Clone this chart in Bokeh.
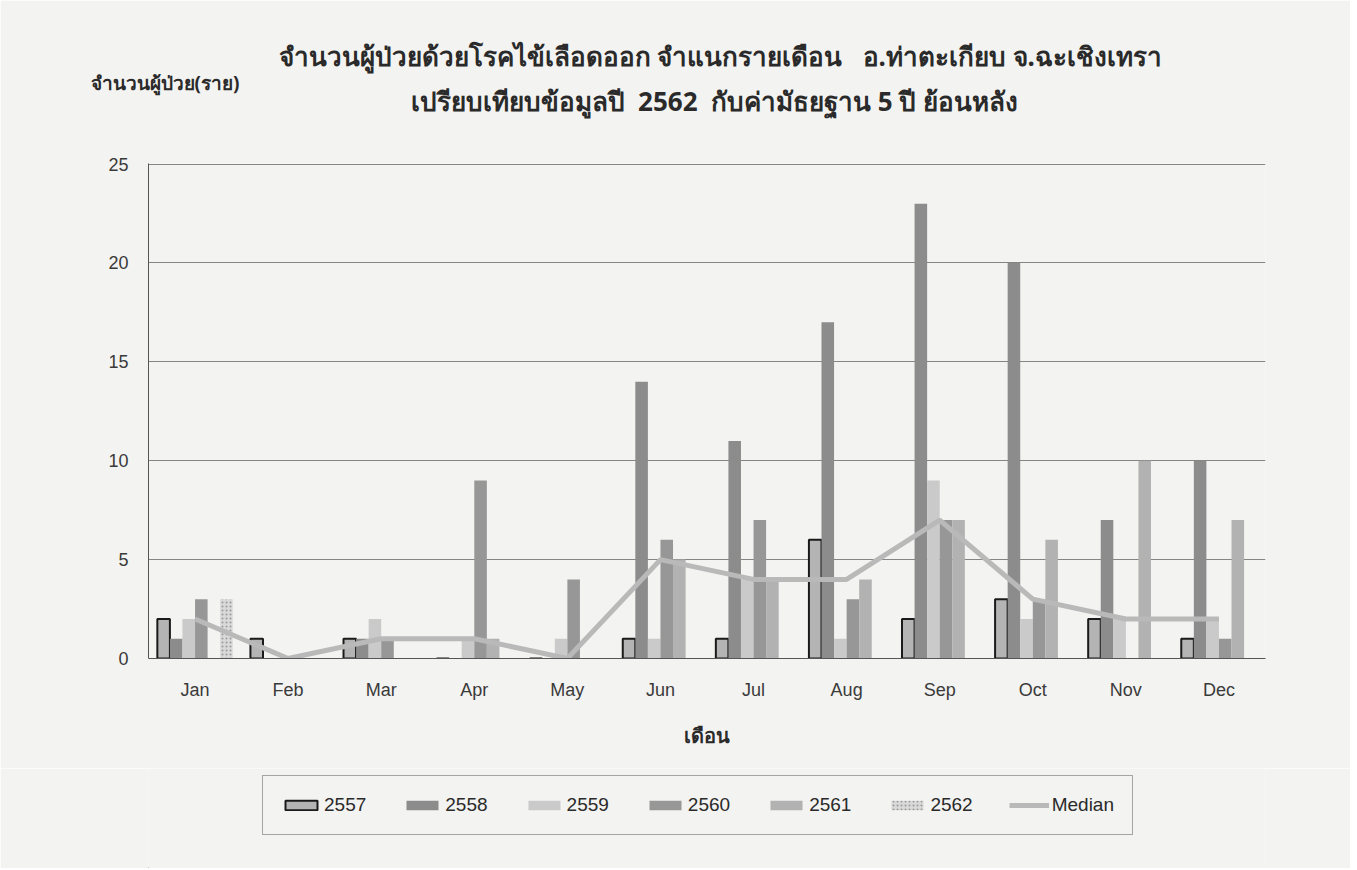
from bokeh.plotting import figure
from bokeh.layouts import column
from bokeh.models import ColumnDataSource, Legend, LegendItem, FixedTicker, Title, Range1d
from bokeh.transform import dodge
from bokeh.embed import file_html
from bokeh.resources import INLINE

months = ["Jan", "Feb", "Mar", "Apr", "May", "Jun", "Jul", "Aug", "Sep", "Oct", "Nov", "Dec"]
y2557 = [2, 1, 1, 0, 0, 1, 1, 6, 2, 3, 2, 1]
y2558 = [1, 0, 1, 0, 0, 14, 11, 17, 23, 20, 7, 10]
y2559 = [2, 0, 2, 1, 1, 1, 4, 1, 9, 2, 2, 2]
y2560 = [3, 0, 1, 9, 4, 6, 7, 3, 7, 3, 0, 1]
y2561 = [0, 0, 0, 1, 0, 5, 4, 4, 7, 6, 10, 7]
y2562 = [3, 0, 0, 0, 0, 0, 0, 0, 0, 0, 0, 0]
median = [2, 0, 1, 1, 0, 5, 4, 4, 7, 3, 2, 2]
years = ["2557", "2558", "2559", "2560", "2561", "2562"]
y_ticks = [0, 5, 10, 15, 20, 25]

NB = "\u00a0"
title1 = "จำนวนผู้ป่วยด้วยโรคไข้เลือดออก จำแนกรายเดือน" + NB * 3 + "อ.ท่าตะเกียบ จ.ฉะเชิงเทรา"
title2 = "เปรียบเทียบข้อมูลปี" + NB * 2 + "2562" + NB * 2 + "กับค่ามัธยฐาน 5 ปี ย้อนหลัง"
ylabel = "จำนวนผู้ป่วย(ราย)"
xlabel = "เดือน"

src = ColumnDataSource(dict(month=months, y2557=y2557, y2558=y2558, y2559=y2559,
                            y2560=y2560, y2561=y2561, y2562=y2562, median=median))

PAPER = "#f3f3f1"
fills = ["#b4b4b4", "#8c8c8c", "#cacaca", "#979797", "#b2b2b2", "#d9d9d9"]
bw = 0.135


def bar_style(i, yr):
    kw = dict(fill_color=fills[i], line_color=None)
    if yr == "2557":
        kw = dict(fill_color=fills[i], line_color="#1a1a1a", line_width=2)
    if yr == "2562":
        kw = dict(fill_color=fills[i], line_color=None, hatch_pattern="dot",
                  hatch_color="#9a9a9a", hatch_scale=4)
    return kw


LINE = dict(line_color="#b9b9b9", line_width=5)

p = figure(x_range=months, y_range=Range1d(0, 25.03), frame_width=1117, frame_height=495,
           output_backend="svg", toolbar_location=None,
           min_border_left=148, min_border_right=85, min_border_top=163, min_border_bottom=110)
p.background_fill_color = PAPER
p.border_fill_color = PAPER
p.outline_line_color = None

for i, yr in enumerate(years):
    off = (i - 2.5) * bw
    p.vbar(x=dodge("month", off, range=p.x_range), top="y" + yr, width=bw,
           source=src, **bar_style(i, yr))

p.line(x="month", y="median", source=src, **LINE)

# axes
p.yaxis.ticker = FixedTicker(ticks=y_ticks)
for ax in (p.xaxis[0], p.yaxis[0]):
    ax.axis_line_color = "#555555"
    ax.major_tick_line_color = None
    ax.minor_tick_line_color = None
    ax.major_label_text_font = "Liberation Sans"
    ax.major_label_text_font_size = "18px"
    ax.major_label_text_color = "#3a3a3a"
p.yaxis.major_label_standoff = 14
p.xaxis.major_label_standoff = 15
p.xaxis.axis_label = xlabel
p.xaxis.axis_label_text_font = "Noto Sans"
p.xaxis.axis_label_text_font_size = "20px"
p.xaxis.axis_label_text_font_style = "bold"
p.xaxis.axis_label_text_color = "#2a2a2a"
p.xaxis.axis_label_standoff = 19
p.xgrid.grid_line_color = None
p.ygrid.grid_line_color = "#858585"
p.ygrid.grid_line_width = 1

TF = "Noto Sans"
t2 = Title(text=title2, align="left", offset=262, text_font=TF, text_font_size="26px",
           text_font_style="bold", text_color="#2a2a2a", standoff=89)
ty = Title(text=ylabel, align="left", offset=-58, text_font=TF, text_font_size="19px",
           text_font_style="bold", text_color="#2a2a2a", standoff=-119)
t1 = Title(text=title1, align="left", offset=130, text_font=TF, text_font_size="26px",
           text_font_style="bold", text_color="#2a2a2a", standoff=-75)
p.add_layout(t2, "above")
p.add_layout(ty, "above")
p.add_layout(t1, "above")

# legend strip below the chart (its frame is aligned with the chart's frame)
q = figure(width=1350, height=100, x_range=(0, 1), y_range=(0, 1),
           output_backend="svg", toolbar_location=None,
           x_axis_type=None, y_axis_type=None, min_border=0,
           min_border_left=148, min_border_right=85)
q.background_fill_color = PAPER
q.border_fill_color = PAPER
q.outline_line_color = None
q.grid.grid_line_color = None
items = []
for i, yr in enumerate(years):
    r = q.vbar(x=[-50], bottom=[-50], top=[-50], width=0.1, **bar_style(i, yr))
    items.append(LegendItem(label=yr, renderers=[r], index=0))
rl = q.line(x=[-50, -49], y=[-50, -50], **LINE)
items.append(LegendItem(label="Median", renderers=[rl], index=0))
legend = Legend(items=items, orientation="horizontal", location=(114, 33),
                glyph_width=40, glyph_height=12, label_text_font="Liberation Sans",
                label_text_font_size="19px", label_text_color="#2a2a2a",
                spacing=36, padding=18, margin=0, label_standoff=3,
                border_line_color="#555555", border_line_width=1,
                background_fill_color=PAPER, background_fill_alpha=1)
q.add_layout(legend, "center")

layout = column(p, q, spacing=0)
open("out.html", "w").write(file_html(layout, INLINE))
